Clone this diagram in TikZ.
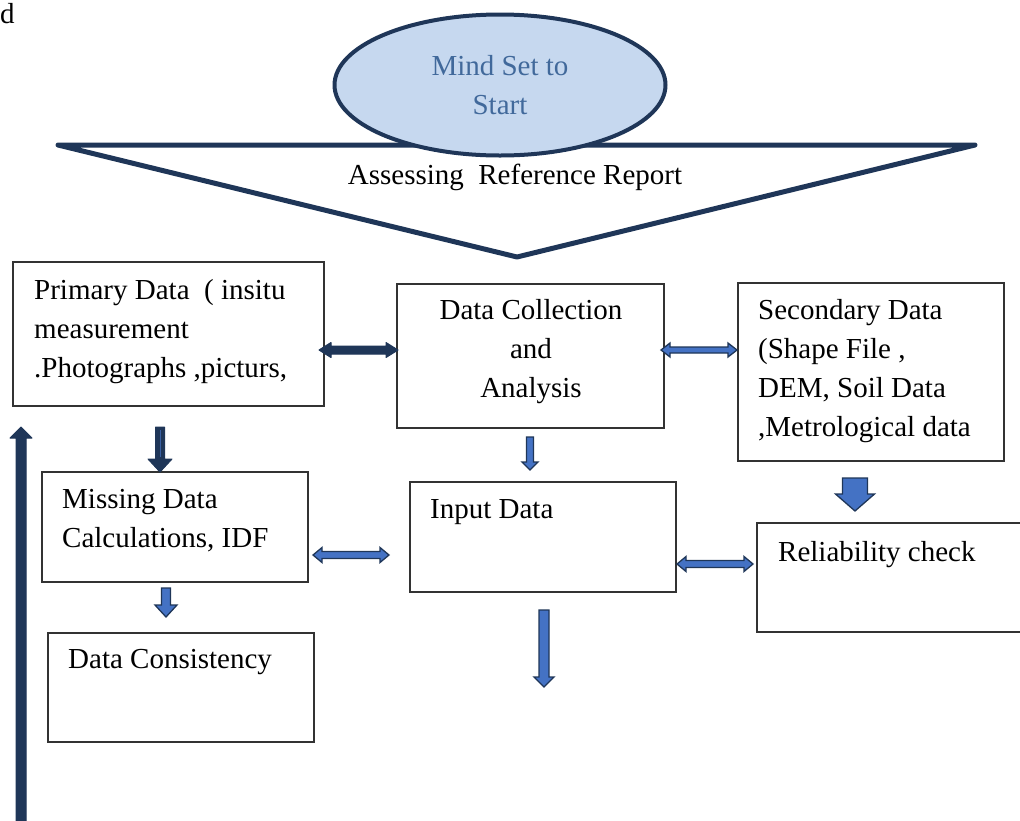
\documentclass[tikz,border=0pt]{standalone}
\usepackage{fontspec}
\setmainfont{Liberation Serif}
\usetikzlibrary{shapes.geometric,calc}
\definecolor{navy}{HTML}{1F3658}
\definecolor{ablue}{HTML}{4472C4}
\definecolor{efill}{HTML}{C6D8EF}
\definecolor{etext}{HTML}{41699B}
\definecolor{boxline}{HTML}{333333}
% #1 start (top), #2 tip (below), #3 shaft half width, #4 head half width, #5 head length, #6 style
\newcommand{\vdown}[6]{%
  \path[#6] let \p1=(#1), \p2=(#2) in
    (\x1-#3pt,\y1) -- (\x1+#3pt,\y1) -- (\x1+#3pt,\y2+#5pt) -- (\x1+#4pt,\y2+#5pt)
    -- (\x1,\y2) -- (\x1-#4pt,\y2+#5pt) -- (\x1-#3pt,\y2+#5pt) -- cycle;}
% #1 start (bottom), #2 tip (above)
\newcommand{\vup}[6]{%
  \path[#6] let \p1=(#1), \p2=(#2) in
    (\x1-#3pt,\y1) -- (\x1+#3pt,\y1) -- (\x1+#3pt,\y2-#5pt) -- (\x1+#4pt,\y2-#5pt)
    -- (\x1,\y2) -- (\x1-#4pt,\y2-#5pt) -- (\x1-#3pt,\y2-#5pt) -- cycle;}
% #1 left tip, #2 right tip
\newcommand{\hdbl}[6]{%
  \path[#6] let \p1=(#1), \p2=(#2) in
    (\x1,\y1) -- (\x1+#5pt,\y1+#4pt) -- (\x1+#5pt,\y1+#3pt) -- (\x2-#5pt,\y1+#3pt)
    -- (\x2-#5pt,\y1+#4pt) -- (\x2,\y1) -- (\x2-#5pt,\y1-#4pt) -- (\x2-#5pt,\y1-#3pt)
    -- (\x1+#5pt,\y1-#3pt) -- (\x1+#5pt,\y1-#4pt) -- cycle;}
\begin{document}
\begin{tikzpicture}[x=1pt,y=-1pt,
  box/.style={draw=boxline, line width=1.5pt, rectangle, inner sep=0pt},
  txt/.style={inner sep=0pt, font=\fontsize{29}{39}\selectfont, align=left, anchor=west},
  bluearrow/.style={fill=ablue, draw=navy, line width=1.3pt, line join=miter},
  navyarrow/.style={fill=navy, draw=navy, line width=1pt, line join=round}]
\useasboundingbox (0,0) rectangle (1020,820);

% top text fragment
\node[txt] (d) at (0,14) {d};

% funnel triangle
\coordinate (tl) at (58,145);
\coordinate (tr) at (975,145);
\coordinate (tb) at (517,257);
\draw[navy, line width=5pt, line join=round, line cap=round, fill=white] (tl) -- (tr) -- (tb) -- cycle;
\node[txt, anchor=center] (assess) at (515,177) {Assessing\ \ Reference Report};

% start ellipse
\node[ellipse, draw=navy, fill=efill, line width=4pt, minimum width=331pt, minimum height=141pt,
      inner sep=0pt, text=etext, align=center, font=\fontsize{29}{39}\selectfont] (start) at (500,85)
      {Mind Set to\\Start};

% boxes
\node[box, minimum width=311pt, minimum height=144pt] (pbox) at (168.5,334) {};
\node[box, minimum width=267pt, minimum height=144pt] (dcbox) at (530.5,356) {};
\node[box, minimum width=266pt, minimum height=178pt] (sbox) at (871,372) {};
\node[box, minimum width=266pt, minimum height=110pt] (mbox) at (175,527) {};
\node[box, minimum width=266pt, minimum height=110pt] (ibox) at (543,537) {};
\node[box, minimum width=267pt, minimum height=109pt] (rbox) at (890.5,577.5) {};
\node[box, minimum width=266pt, minimum height=109pt] (cbox) at (181,687.5) {};

% texts
\node[txt] (ptext) at (34,332) {Primary Data\ \ ( insitu\\measurement\\.Photographs ,picturs,};
\node[txt, anchor=center, align=center] (dctext) at (531,352) {Data Collection\\and\\Analysis};
\node[txt] (stext) at (758,371) {Secondary Data\\(Shape File ,\\DEM, Soil Data\\,Metrological data};
\node[txt] (mtext) at (62,521) {Missing Data\\Calculations, IDF};
\node[txt] (itext) at (430,512) {Input Data};
\node[txt] (rtext) at (778,555) {Reliability check};
\node[txt] (ctext) at (68,662) {Data Consistency};

% horizontal double arrows
\coordinate (pd1) at (319,350);  \coordinate (pd2) at (398,350);
\coordinate (ds1) at (661,350);  \coordinate (ds2) at (737,350);
\coordinate (mi1) at (313,555);  \coordinate (mi2) at (389,555);
\coordinate (ir1) at (677,564);  \coordinate (ir2) at (753,564);
\hdbl{pd1}{pd2}{4}{7.5}{12}{navyarrow}
\hdbl{ds1}{ds2}{3}{7}{9}{bluearrow}
\hdbl{mi1}{mi2}{3.5}{7.5}{9}{bluearrow}
\hdbl{ir1}{ir2}{3.5}{7.5}{9}{bluearrow}

% vertical block arrows
\coordinate (pm1) at (160,427);  \coordinate (pm2) at (160,472);
\coordinate (di1) at (530,437);  \coordinate (di2) at (530,470);
\coordinate (sr1) at (855,478);  \coordinate (sr2) at (855,511);
\coordinate (mc1) at (166,588);  \coordinate (mc2) at (166,617);
\coordinate (io1) at (544,610);  \coordinate (io2) at (544,687);
\coordinate (lu1) at (21,825);   \coordinate (lu2) at (21,427);
\vdown{pm1}{pm2}{4.5}{12}{13}{navyarrow}
\draw[ablue!70!navy, line width=1pt] (pm1) ++(0,3) -- ++(0,27);
\vdown{di1}{di2}{3.5}{8}{8}{bluearrow}
\vdown{sr1}{sr2}{12.5}{19.5}{17}{bluearrow}
\vdown{mc1}{mc2}{4.5}{11}{12}{bluearrow}
\vdown{io1}{io2}{5}{10}{10}{bluearrow}
\vup{lu1}{lu2}{5}{11}{11}{navyarrow}
\end{tikzpicture}
\end{document}
